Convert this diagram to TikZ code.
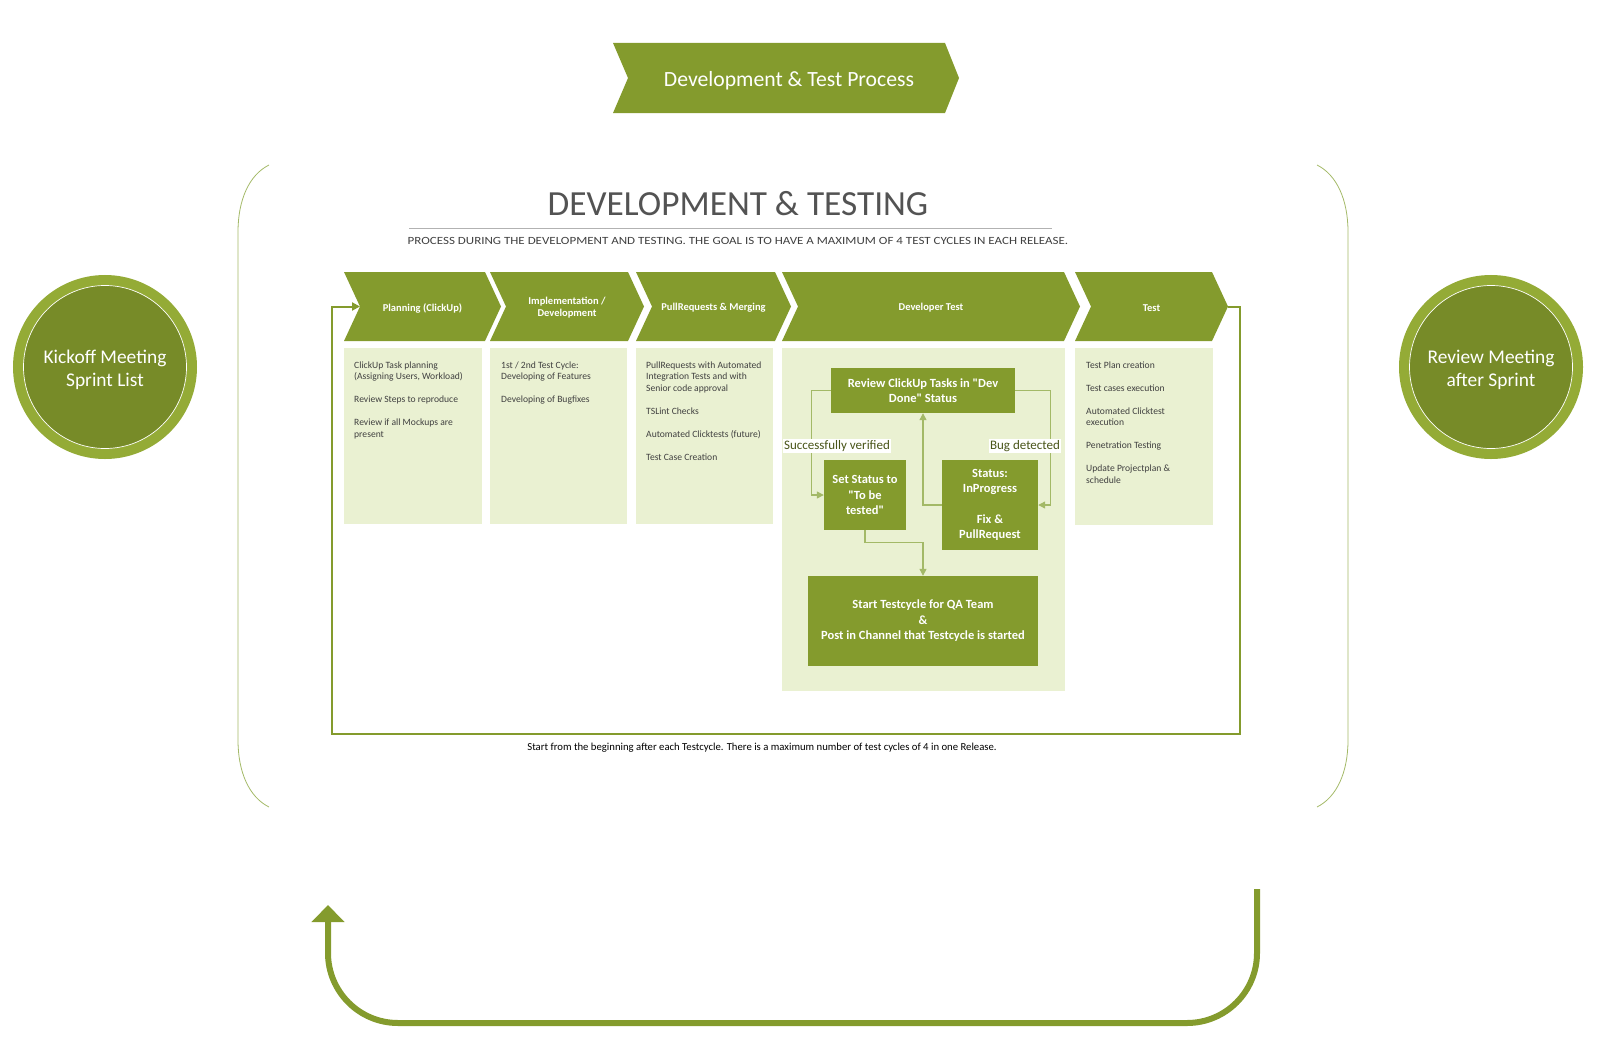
\documentclass[tikz,border=0pt]{standalone}
\usepackage{fontspec}
\setmainfont{Carlito}
\usetikzlibrary{arrows.meta,calc,positioning}
\definecolor{Olive}{HTML}{849B2D}
\definecolor{OliveDark}{HTML}{778B28}
\definecolor{OliveRing}{HTML}{94AB36}
\definecolor{OliveLine}{HTML}{A3B967}
\definecolor{Pale}{HTML}{EAF1D2}
\definecolor{Ink}{HTML}{404040}

\begin{document}
\begin{tikzpicture}[x=1pt,y=-1pt,>=Stealth,
    chevtext/.style={text=white,font=\bfseries\fontsize{10.5}{12}\selectfont,align=center},
    listbox/.style={fill=Pale,anchor=north west,inner sep=0pt},
    listtext/.style={text=Ink,font=\fontsize{9.6}{11.5}\selectfont,align=left,anchor=north west,inner sep=0pt},
    stepbox/.style={fill=Olive,text=white,font=\bfseries\fontsize{12.5}{15.5}\selectfont,align=center,inner sep=0pt},
    flow/.style={draw=OliveLine,line width=1.2pt,-{Triangle[length=7pt,width=7pt]}},
    tag/.style={fill=white,text=Olive!55!black,font=\fontsize{13}{14}\selectfont,inner sep=1pt},
    meeting/.style={circle,fill=OliveDark,draw=white,line width=0.7pt,minimum size=163pt,inner sep=0pt,
      preaction={draw=OliveRing,line width=21pt}},
    meettext/.style={text=white,align=center,font=\fontsize{19.4}{23}\selectfont}]
    \useasboundingbox (0,0) rectangle (1601,1041);

    % header arrow
    \fill[Olive] (613,43) -- (945,43) -- (959,78) -- (945,113) -- (613,113) -- (628,78) -- cycle;
    \node[text=white,font=\fontsize{21.7}{24}\selectfont] (proc) at (789,81) {Development \& Test Process};

    % frame brackets
    \draw[OliveLine,line width=0.8pt] (269,165) .. controls (249,175) and (238,200) .. (238,232) -- (238,740) .. controls (238,772) and (249,797) .. (269,807);
    \draw[OliveLine,line width=0.8pt] (1317,165) .. controls (1337,175) and (1348,200) .. (1348,232) -- (1348,740) .. controls (1348,772) and (1337,797) .. (1317,807);

    \node[text=Ink!90,font=\fontsize{35.3}{40}\selectfont] (title) at (738,204) {DEVELOPMENT \& TESTING};
    \draw[gray!60,line width=0.8pt] (409,228) -- (1052,228);
    \node[text=Ink,font=\fontsize{11}{12}\selectfont] (sub) at (738,241) {\scalebox{1.18}[1]{PROCESS DURING THE DEVELOPMENT AND TESTING. THE GOAL IS TO HAVE A MAXIMUM OF 4 TEST CYCLES IN EACH RELEASE.}};

    % phases
    \foreach \n/\xa/\xb/\txt in {plan/344/485/{Planning (ClickUp)},impl/490/628/{Implementation /\\Development},pr/636/775/{PullRequests \& Merging},dev/782/1064/{Developer Test},test/1075/1212/{Test}}{
      \fill[Olive] (\xa,272) -- (\xb,272) -- ({\xb+16},306.5) -- (\xb,341) -- (\xa,341) -- ({\xa+16},306.5) -- cycle;
      \coordinate (\n-notch) at ({\xa+16},306.5);
      \coordinate (\n-tip) at ({\xb+16},306.5);
      \node[chevtext] (\n) at ({(\xa+\xb)/2+8},308) {\txt};
    }
    \foreach \n/\xa/\w/\h in {plan/344/138/176,impl/490/137/176,pr/636/137/176,dev/782/283/343,test/1075/138/177}{
      \node[listbox,minimum width=\w pt,minimum height=\h pt] (\n-box) at (\xa,348) {};
    }

    \node[listtext] (plan-txt) at ($(plan-box.north west)+(10,13.5)$) {ClickUp Task planning\\(Assigning Users, Workload)\\[11.5pt]Review Steps to reproduce\\[11.5pt]Review if all Mockups are\\present};
    \node[listtext] (impl-txt) at ($(impl-box.north west)+(11,13.5)$) {1st / 2nd Test Cycle:\\Developing of Features\\[11.5pt]Developing of Bugfixes};
    \node[listtext] (pr-txt) at ($(pr-box.north west)+(10,13.5)$) {PullRequests with Automated\\Integration Tests and with\\Senior code approval\\[11.5pt]TSLint Checks\\[11.5pt]Automated Clicktests (future)\\[11.5pt]Test Case Creation};
    \node[listtext] (test-txt) at ($(test-box.north west)+(11,13.5)$) {Test Plan creation\\[11.5pt]Test cases execution\\[11.5pt]Automated Clicktest\\execution\\[11.5pt]Penetration Testing\\[11.5pt]Update Projectplan \&\\schedule};

    % developer test loop
    \node[stepbox,minimum width=184pt,minimum height=45pt] (rev) at (923,390.5) {Review ClickUp Tasks in \textquotedbl Dev\\Done\textquotedbl{} Status};
    \node[stepbox,minimum width=82pt,minimum height=70pt] (set) at (865,495) {Set Status to\\\textquotedbl To be\\tested\textquotedbl};
    \node[stepbox,minimum width=96pt,minimum height=90pt] (stat) at (990,505) {Status:\\InProgress\\[15pt]Fix \&\\PullRequest};
    \node[stepbox,minimum width=230pt,minimum height=90pt] (start) at (923,621) {Start Testcycle for QA Team\\\&\\Post in Channel that Testcycle is started};

    \draw[flow] (rev.west) -- ++(-19,0) |- (set.west);
    \draw[flow] (rev.east) -- ++(35,0) |- (stat.east);
    \draw[flow] (stat.west) -| (rev.south);
    \draw[flow] (set.south) -- ++(0,12) -| (start.north);
    \node[tag] (ok) at (837,446) {Successfully verified};
    \node[tag] (bug) at (1025,446) {Bug detected};

    % back to planning
    \coordinate (loop-br) at (1240,734);
    \coordinate (loop-bl) at (332,734);
    \draw[Olive,line width=2pt,-{Triangle[length=8pt,width=8pt]}] (test-tip) -| (loop-br) -- (loop-bl) |- (plan-notch);
    \node[text=black,font=\fontsize{10.7}{12}\selectfont] (foot) at (762,748) {Start from the beginning after each Testcycle. There is a maximum number of test cycles of 4 in one Release.};

    \node[meeting] (kickoff) at (105,367) {};
    \node[meettext] (kickoff-txt) at ($(kickoff)+(0,2.5)$) {Kickoff Meeting\\Sprint List};
    \node[meeting] (review) at (1491,367) {};
    \node[meettext] (review-txt) at ($(review)+(0,2.5)$) {Review Meeting\\after Sprint};

    % sprint return
    \coordinate (back-start) at (1257,889);
    \coordinate (back-base) at (790,1023);
    \coordinate (back-end) at (328,905);
    \draw[Olive,line width=6pt,rounded corners=70pt,-{Triangle[length=17pt,width=32pt]}] (back-start) |- (back-base) -| (back-end);
\end{tikzpicture}
\end{document}
